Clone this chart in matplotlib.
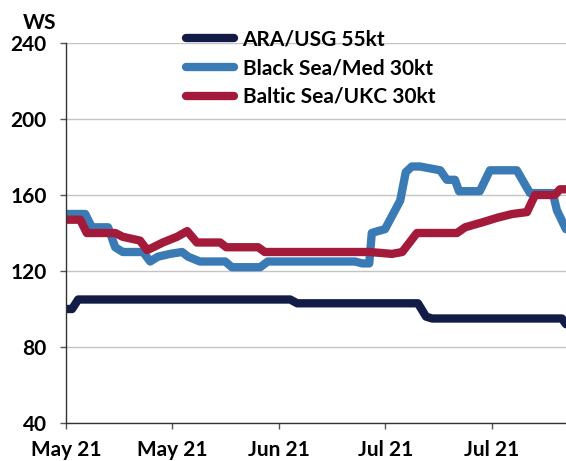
import numpy as np
import pandas as pd
import matplotlib
matplotlib.use("Agg")
import matplotlib.pyplot as plt
import matplotlib.dates as mdates

plt.rcParams['font.family'] = ['Lato', 'DejaVu Sans']
plt.rcParams['font.weight'] = 'bold'

start = pd.Timestamp("2021-05-03")

# days since start, values in WS
ara_days = [0, 1.2, 2.4, 44.2, 45.6, 69.4, 71.0, 72.2, 97.8, 98.6]
ara_vals = [100, 100, 105, 105, 103, 103, 96, 95, 95, 92]

black_days = [0, 3.8, 5.1, 8.3, 9.7, 11.2, 15.2, 16.6, 18.1, 20.5, 22.9, 24.1, 26.4,
              31.4, 32.7, 38.3, 39.8, 57.0, 58.4, 59.8, 60.3, 61.5, 62.9, 65.9,
              67.0, 68.2, 69.8, 73.8, 75.1, 76.7, 77.5, 81.6, 83.6, 88.9, 91.5,
              96.0, 96.8, 98.6]
black_vals = [150, 150, 143, 143, 132.5, 130, 130, 125, 127.5, 129, 130, 127.5, 125,
              125, 122, 122, 125, 125, 124, 124, 140, 141, 142, 157,
              172, 175, 175, 173, 168, 168, 162, 162, 173, 173, 161,
              161, 152, 142]

baltic_days = [0, 2.8, 4.1, 9.7, 11.2, 14.6, 16.0, 17.2, 19.1, 21.9, 23.9, 25.8,
               30.4, 31.6, 37.9, 39.2, 59.9, 64.3, 66.3, 69.2, 77.1, 78.7, 82.6,
               85.0, 88.0, 90.9, 92.5, 96.4, 97.4, 98.6]
baltic_vals = [147, 147, 140, 140, 138, 136, 131, 132.5, 135, 138, 141, 135,
               135, 132.5, 132.5, 130, 130, 129, 130, 140, 140, 143, 146,
               148, 150, 151, 160, 160, 163, 163]

series = [
    ("ARA/USG 55kt", ara_days, ara_vals, "#121c47"),
    ("Black Sea/Med 30kt", black_days, black_vals, "#3a7bb5"),
    ("Baltic Sea/UKC 30kt", baltic_days, baltic_vals, "#a31a3a"),
]

tick_dates = ["2021-05-03", "2021-05-24", "2021-06-14", "2021-07-05", "2021-07-26"]
yticks = [40, 80, 120, 160, 200, 240]

fig = plt.figure(figsize=(5.66, 4.61), dpi=100)
ax = fig.add_axes([66 / 566, 38 / 461, 500 / 566, 380 / 461])

for name, days, vals, col in series:
    x = start + pd.to_timedelta(days, unit="D")
    ax.plot(x, vals, color=col, lw=6, label=name,
            solid_joinstyle='round', solid_capstyle='round')

ax.set_ylim(40, 240)
ax.set_yticks(yticks)
ax.set_xlim(start, start + pd.Timedelta(days=98.6))
ax.set_xticks(pd.to_datetime(tick_dates))
ax.xaxis.set_major_formatter(mdates.DateFormatter("%b %y"))

ax.grid(axis='y', color='#c4c4c4', lw=1)
ax.set_axisbelow(True)
for s in ['top', 'right']:
    ax.spines[s].set_visible(False)
for s in ['left', 'bottom']:
    ax.spines[s].set_color('#333333')
    ax.spines[s].set_linewidth(1)
ax.tick_params(axis='both', length=4, width=1, color='#555555', labelsize=15)
ax.tick_params(axis='y', pad=10)
ax.tick_params(axis='x', pad=8)

fig.text(23 / 566, 1 - 23 / 461, "WS", fontsize=15, fontweight='bold',
         va='center', ha='left')

leg = ax.legend(loc='upper left', bbox_to_anchor=(178 / 566, 1 - 21 / 461),
                bbox_transform=fig.transFigure, frameon=False, fontsize=15,
                handlelength=2.3, handletextpad=0.4, labelspacing=0.42,
                borderaxespad=0)
for line in leg.get_lines():
    line.set_linewidth(6)
    line.set_solid_capstyle('round')

fig.savefig("out.png", dpi=100)
